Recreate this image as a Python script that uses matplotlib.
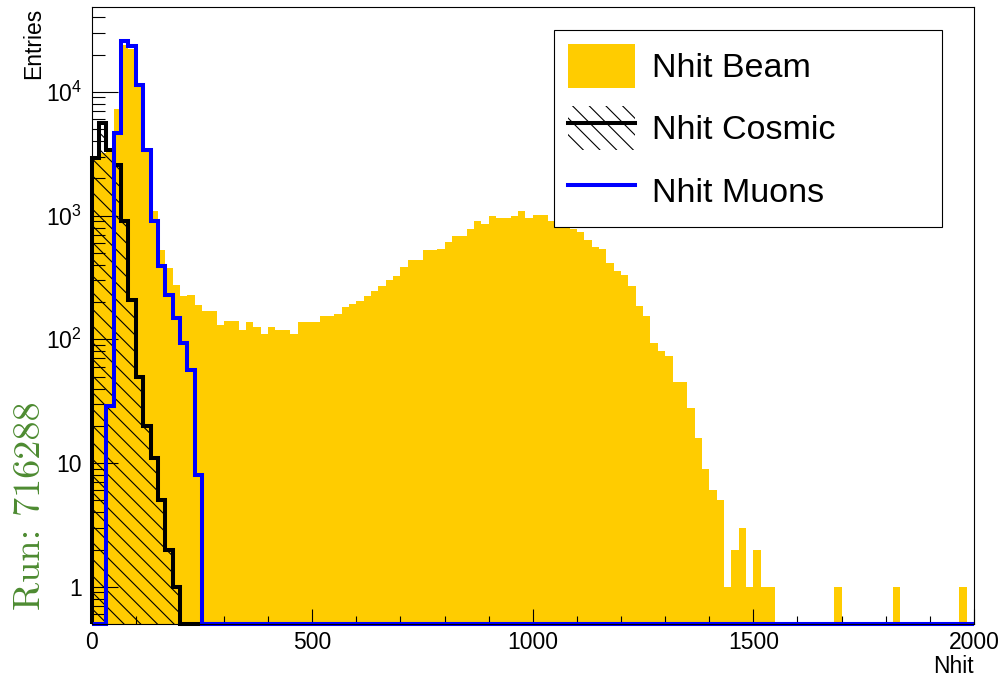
import numpy as np
import matplotlib
matplotlib.use("Agg")
import matplotlib.pyplot as plt
from matplotlib.patches import Patch
from matplotlib.lines import Line2D
from matplotlib.legend_handler import HandlerTuple
from matplotlib.ticker import FixedLocator, LogLocator, MultipleLocator, NullFormatter

plt.rcParams["font.family"] = ["Liberation Sans", "DejaVu Sans"]
plt.rcParams["mathtext.fontset"] = "custom"
plt.rcParams["mathtext.rm"] = "Liberation Sans"
plt.rcParams["hatch.linewidth"] = 0.8

# 120 bins between 0 and 2000 Nhit
n_bins = 120
x_lo, x_hi = 0, 2000

# entries per bin
beam = [2900, 3200, 3300, 7300, 24000, 22000, 11000, 3300, 1080, 525,
        375, 276, 222, 229, 190, 170, 170, 130, 141, 141,
        118, 138, 126, 111, 126, 118, 118, 111, 138, 138,
        138, 155, 155, 160, 181, 193, 205, 222, 247, 268,
        303, 323, 384, 434, 434, 523, 523, 540, 611, 688,
        688, 779, 898, 855, 986, 956, 956, 998, 1081, 956,
        1017, 1017, 898, 880, 844, 779, 737, 631, 553, 537,
        414, 354, 333, 268, 187, 155, 93, 80, 73, 45,
        45, 28, 16, 9, 6, 5, 1, 2, 3, 1,
        2, 1, 1, 0, 0, 0, 0, 0, 0, 0,
        0, 1, 0, 0, 0, 0, 0, 0, 0, 1,
        0, 0, 0, 0, 0, 0, 0, 0, 1, 0]
cosmic = [2900, 5600, 3400, 2580, 898, 209, 50, 20, 11, 5, 2, 1] + [0] * 108
muons = [0, 0, 29, 4680, 25600, 23300, 11400, 3410, 898, 389,
         230, 150, 93, 57, 8] + [0] * 105

labels = ["Nhit Beam", "Nhit Cosmic", "Nhit Muons"]
ytick_vals = [1, 10, 100, 1000, 10000]
ytick_labels = ["1", "10", "$10^{2}$", "$10^{3}$", "$10^{4}$"]

YMIN, YMAX = 0.5, 4.82e4
edges = np.linspace(x_lo, x_hi, n_bins + 1)


def floored(v):
    # empty bins sit on the bottom of the log axis, as ROOT draws them
    return np.maximum(np.asarray(v, dtype=float), YMIN)


fig = plt.figure(figsize=(10.02, 6.82), dpi=100)
ax = fig.add_axes([0.0915, 0.085, 0.8805, 0.9043])

ax.stairs(floored(beam), edges, fill=True, baseline=YMIN, color="#ffcc00",
          linewidth=0, zorder=1)
ax.stairs(floored(cosmic), edges, fill=True, baseline=YMIN, facecolor="none",
          edgecolor="black", hatch=r"\\", linewidth=0, zorder=1.5)
ax.stairs(floored(cosmic), edges, baseline=YMIN, color="black",
          linewidth=2.9, zorder=2, clip_on=False)
ax.stairs(floored(muons), edges, baseline=YMIN, color="#0000ff",
          linewidth=2.9, zorder=2.2, clip_on=False)

ax.set_xlim(x_lo, x_hi)
ax.set_yscale("log")
ax.set_ylim(YMIN, YMAX)

ax.xaxis.set_major_locator(MultipleLocator(500))
ax.xaxis.set_minor_locator(MultipleLocator(100))
ax.yaxis.set_major_locator(FixedLocator(ytick_vals))
ax.set_yticklabels(ytick_labels)
ax.yaxis.set_minor_locator(LogLocator(base=10, subs=np.arange(2, 10), numticks=20))
ax.yaxis.set_minor_formatter(NullFormatter())

ax.tick_params(which="both", direction="in", top=False, right=False,
               labelsize=16.5, width=0.8, color="black")
ax.tick_params(axis="x", which="major", length=11, pad=5)
ax.tick_params(axis="x", which="minor", length=5.8)
ax.tick_params(axis="y", which="major", length=18.5, pad=7)
ax.tick_params(axis="y", which="minor", length=9.4)
for s in ax.spines.values():
    s.set_linewidth(0.8)
    s.set_color("black")

ax.set_xlabel("Nhit", fontsize=16.5, loc="right")
ax.xaxis.set_label_coords(1.0, -0.051)
ax.set_ylabel("Entries", fontsize=16.5, loc="top")
ax.yaxis.set_label_coords(-0.053, 1.0)

# legend like the ROOT TLegend
h_beam = Patch(facecolor="#ffcc00", edgecolor="none")
h_cosmic = (Patch(facecolor="none", edgecolor="black", hatch=r"\\", linewidth=0),
            Line2D([], [], color="black", linewidth=2.9))
h_muons = Line2D([], [], color="#0000ff", linewidth=2.9)
leg = ax.legend([h_beam, h_cosmic, h_muons], labels,
                handler_map={tuple: HandlerTuple(ndivide=1, pad=0)},
                loc="upper left", bbox_to_anchor=(0.524, 0.650, 0.44, 0.313),
                mode="expand", fontsize=24.5, frameon=True, fancybox=False,
                edgecolor="black", framealpha=1, borderpad=0.4,
                labelspacing=0.54, handlelength=1.97, handleheight=1.62,
                handletextpad=0.5, borderaxespad=0)
leg.get_frame().set_linewidth(0.8)
leg.set_zorder(5)

fig.text(30.5 / 1002, 1 - 506 / 682, "Run: 716288", rotation=90,
         ha="center", va="center", fontsize=27.5, family="cmr10", color="#4d8b31")

fig.savefig("out.png", dpi=100)
